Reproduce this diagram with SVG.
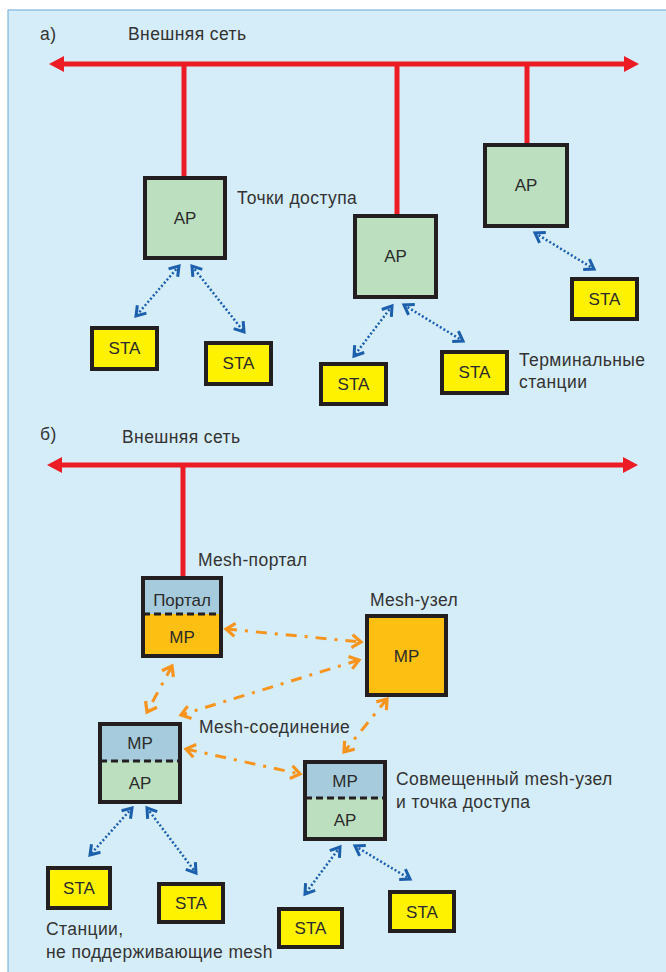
<svg xmlns="http://www.w3.org/2000/svg" width="666" height="972" viewBox="0 0 666 972">
<defs>
<style>
.t{font-family:"Liberation Sans","DejaVu Sans",sans-serif;font-size:17.5px;letter-spacing:0.4px;fill:#333333}
.lbl{font-family:"Liberation Sans","DejaVu Sans",sans-serif;font-size:17px;fill:#2b2b2b;text-anchor:middle}
.box{stroke:#231f20;stroke-width:4}
.ap{fill:#bcdfbf}
.sta{fill:#fff200}
.mp{fill:#fcbf12}
.pt{fill:#a6cbdc}
.red{stroke:#ed1c24;stroke-width:5;fill:none}
.blue{stroke:#1b5fad;stroke-width:2.5;stroke-dasharray:2 2.2;fill:none;marker-start:url(#bh);marker-end:url(#bh)}
.orange{stroke:#f7941d;stroke-width:3;stroke-dasharray:11 8 3 8;fill:none;marker-start:url(#oh);marker-end:url(#oh)}
.div{stroke:#231f20;stroke-width:3;stroke-dasharray:7 4}
</style>
<marker id="bh" markerUnits="userSpaceOnUse" markerWidth="20" markerHeight="20" viewBox="-14 -10 20 20" refX="0" refY="0" orient="auto-start-reverse">
<path d="M-9,-6 L0,0 L-9,6" fill="none" stroke="#1b5fad" stroke-width="3"/>
</marker>
<marker id="oh" markerUnits="userSpaceOnUse" markerWidth="20" markerHeight="20" viewBox="-14 -10 20 20" refX="0" refY="0" orient="auto-start-reverse">
<path d="M-9,-6.5 L0,0 L-9,6.5" fill="none" stroke="#f7941d" stroke-width="3.2"/>
</marker>
</defs>
<rect x="0" y="0" width="666" height="972" fill="#ffffff"/>
<rect x="8" y="10" width="664" height="970" fill="#d5ecf9" stroke="#6aaad6" stroke-width="1"/>

<g id="connectors">
<line class="red" x1="62" y1="64" x2="626" y2="64"/>
<polygon points="49,64 64,56 64,72" fill="#ed1c24"/>
<polygon points="639,64 624,56 624,72" fill="#ed1c24"/>
<line class="red" x1="184" y1="64" x2="184" y2="177"/>
<line class="red" x1="397" y1="64" x2="397" y2="215"/>
<line class="red" x1="527" y1="64" x2="527" y2="144"/>
<line class="red" x1="60" y1="465" x2="625" y2="465"/>
<polygon points="47,465 62,457 62,473" fill="#ed1c24"/>
<polygon points="638,465 623,457 623,473" fill="#ed1c24"/>
<line class="red" x1="183" y1="465" x2="183" y2="577"/>
<line class="blue" x1="179" y1="266" x2="136" y2="316"/>
<line class="blue" x1="192" y1="266" x2="244" y2="332"/>
<line class="blue" x1="392" y1="306" x2="354" y2="356"/>
<line class="blue" x1="404" y1="305" x2="463" y2="341"/>
<line class="blue" x1="535" y1="233" x2="594" y2="269"/>
<line class="blue" x1="132" y1="808" x2="90" y2="855"/>
<line class="blue" x1="147" y1="808" x2="196" y2="873"/>
<line class="blue" x1="340" y1="847" x2="305" y2="894"/>
<line class="blue" x1="355" y1="846" x2="410" y2="879"/>
<line class="orange" x1="226" y1="629" x2="361" y2="642"/>
<line class="orange" x1="359" y1="660" x2="181" y2="715"/>
<line class="orange" x1="172" y1="666" x2="147" y2="712"/>
<line class="orange" x1="387" y1="699" x2="344" y2="752"/>
<line class="orange" x1="186" y1="749" x2="300" y2="774"/>
</g>

<g id="labels">
<text class="t" x="40" y="40">а)</text>
<text class="t" x="128" y="40">Внешняя сеть</text>
<text class="t" x="237" y="204">Точки доступа</text>
<text class="t" x="519" y="366">Терминальные</text>
<text class="t" x="519" y="388">станции</text>
<text class="t" x="40" y="440">б)</text>
<text class="t" x="122" y="443">Внешняя сеть</text>
<text class="t" x="198" y="566">Mesh-портал</text>
<text class="t" x="370" y="606">Mesh-узел</text>
<text class="t" x="199" y="733">Mesh-соединение</text>
<text class="t" x="396" y="785">Совмещенный mesh-узел</text>
<text class="t" x="396" y="808">и точка доступа</text>
<text class="t" x="46" y="935">Станции,</text>
<text class="t" x="46" y="958">не поддерживающие mesh</text>
</g>

<g id="ap1"><rect class="box ap" x="145" y="178" width="80" height="80"/><text class="lbl" x="185" y="224">AP</text></g>
<g id="ap2"><rect class="box ap" x="355" y="216" width="81" height="81"/><text class="lbl" x="395.5" y="262">AP</text></g>
<g id="ap3"><rect class="box ap" x="485" y="145" width="82" height="81"/><text class="lbl" x="526" y="191">AP</text></g>

<g id="sta1"><rect class="box sta" x="92" y="328" width="65" height="41"/><text class="lbl" x="124.5" y="354">STA</text></g>
<g id="sta2"><rect class="box sta" x="206" y="343" width="65" height="41"/><text class="lbl" x="238.5" y="369">STA</text></g>
<g id="sta3"><rect class="box sta" x="321" y="364" width="65" height="40"/><text class="lbl" x="353.5" y="390">STA</text></g>
<g id="sta4"><rect class="box sta" x="442" y="352" width="65" height="41"/><text class="lbl" x="474.5" y="378">STA</text></g>
<g id="sta5"><rect class="box sta" x="572" y="279" width="65" height="40"/><text class="lbl" x="604.5" y="305">STA</text></g>

<g id="portal">
<rect class="pt" x="143" y="578" width="78" height="36"/>
<rect class="mp" x="143" y="614" width="78" height="42"/>
<line class="div" x1="143" y1="614" x2="221" y2="614"/>
<rect x="143" y="578" width="78" height="78" fill="none" class="box"/>
<text class="lbl" x="182" y="606">Портал</text>
<text class="lbl" x="182" y="643">MP</text>
</g>

<g id="meshnode"><rect class="box mp" x="367" y="616" width="79" height="79"/><text class="lbl" x="406.5" y="662">MP</text></g>

<g id="mpap1">
<rect class="pt" x="100" y="724" width="80" height="37"/>
<rect class="ap" x="100" y="761" width="80" height="41"/>
<line class="div" x1="100" y1="761" x2="180" y2="761"/>
<rect x="100" y="724" width="80" height="78" fill="none" class="box"/>
<text class="lbl" x="140" y="749">MP</text>
<text class="lbl" x="140" y="789">AP</text>
</g>

<g id="mpap2">
<rect class="pt" x="305" y="762" width="80" height="36"/>
<rect class="ap" x="305" y="798" width="80" height="41"/>
<line class="div" x1="305" y1="798" x2="385" y2="798"/>
<rect x="305" y="762" width="80" height="77" fill="none" class="box"/>
<text class="lbl" x="345" y="787">MP</text>
<text class="lbl" x="345" y="826">AP</text>
</g>

<g id="sta6"><rect class="box sta" x="48" y="868" width="62" height="40"/><text class="lbl" x="79" y="894">STA</text></g>
<g id="sta7"><rect class="box sta" x="159" y="884" width="64" height="38"/><text class="lbl" x="191" y="909">STA</text></g>
<g id="sta8"><rect class="box sta" x="279" y="909" width="63" height="38"/><text class="lbl" x="310.5" y="934">STA</text></g>
<g id="sta9"><rect class="box sta" x="390" y="892" width="64" height="39"/><text class="lbl" x="422" y="918">STA</text></g>
</svg>
